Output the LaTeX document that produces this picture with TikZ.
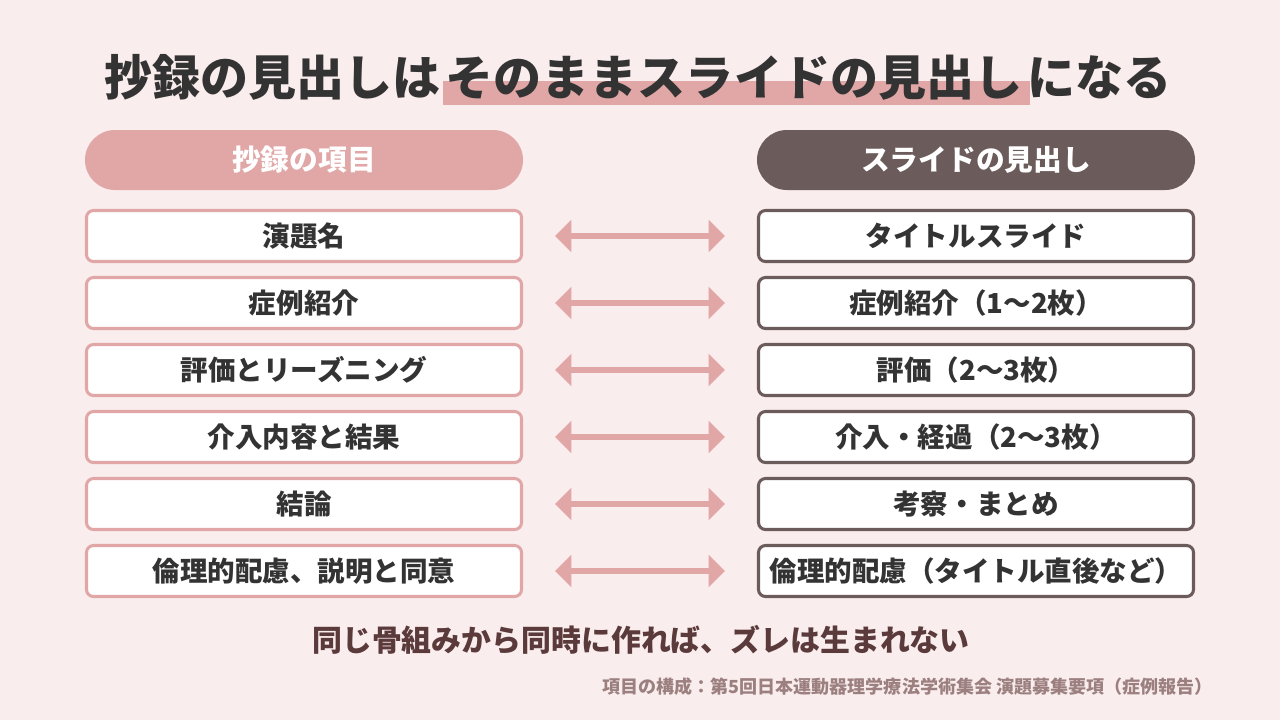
\documentclass[tikz,border=0pt]{standalone}
\usepackage{fontspec}
\setmainfont{Noto Sans CJK JP}
\usetikzlibrary{arrows.meta, positioning}

\definecolor{bgpink}{HTML}{FAEDED}
\definecolor{rosepink}{HTML}{E1A6A6}
\definecolor{mocha}{HTML}{6B5B5B}
\definecolor{inkgray}{HTML}{333333}
\definecolor{subbrown}{HTML}{5A3A3A}
\definecolor{notegray}{HTML}{9C8080}

\begin{document}
\begin{tikzpicture}[x=0.03cm, y=-0.03cm,
    pill/.style={rounded corners=0.9cm, minimum width=13.14cm, minimum height=1.8cm, text=white, font=\fontsize{24.5pt}{28pt}\selectfont\bfseries},
    itembox/.style={draw, line width=2.6pt, rounded corners=6pt, fill=white, minimum width=13.05cm, minimum height=1.53cm, inner sep=0pt, text=inkgray, font=\fontsize{23.5pt}{27pt}\selectfont\bfseries},
    pairarrow/.style={rosepink, line width=5pt, {Triangle[length=14pt,width=27pt]}-{Triangle[length=14pt,width=27pt]}}]

        \fill[bgpink] (0,0) rectangle (1280,720);
        \useasboundingbox (0,0) rectangle (1280,720);

        % title with highlight bar
        \fill[rosepink] (443,81) rectangle (1030,105);
        \node[text=inkgray, font=\fontsize{41pt}{46pt}\selectfont\bfseries] (title) at (638,77) {抄録の見出しは\hspace{4.5pt}そのままスライドの見出し\hspace{4.5pt}になる};

        \node[pill, fill=rosepink] (lhead) at (304,160) {抄録の項目};
        \node[pill, fill=mocha] (rhead) at (976,160) {スライドの見出し};

        \foreach \i/\lt/\rt in {1/演題名/タイトルスライド,
                                2/症例紹介/症例紹介（1～2枚）,
                                3/評価とリーズニング/評価（2～3枚）,
                                4/介入内容と結果/介入・経過（2～3枚）,
                                5/結論/考察・まとめ,
                                6/倫理的配慮、説明と同意/倫理的配慮（タイトル直後など）}
        {
            \node[itembox, draw=rosepink] (l\i) at (304,169+67*\i) {\lt};
            \node[itembox, draw=mocha] (r\i) at (976,169+67*\i) {\rt};
            \draw[pairarrow] ([xshift=0.96cm]l\i.east) -- ([xshift=-0.96cm]r\i.west);
        }

        \node[text=subbrown, font=\fontsize{25.5pt}{30pt}\selectfont\bfseries] (summary) at (641,640) {同じ骨組みから同時に作れば、ズレは生まれない};
        \node[anchor=east, text=notegray, font=\fontsize{15.4pt}{18pt}\selectfont\bfseries] (source) at (1217,687) {項目の構成：第5回日本運動器理学療法学術集会 演題募集要項（症例報告）};

\end{tikzpicture}
\end{document}
